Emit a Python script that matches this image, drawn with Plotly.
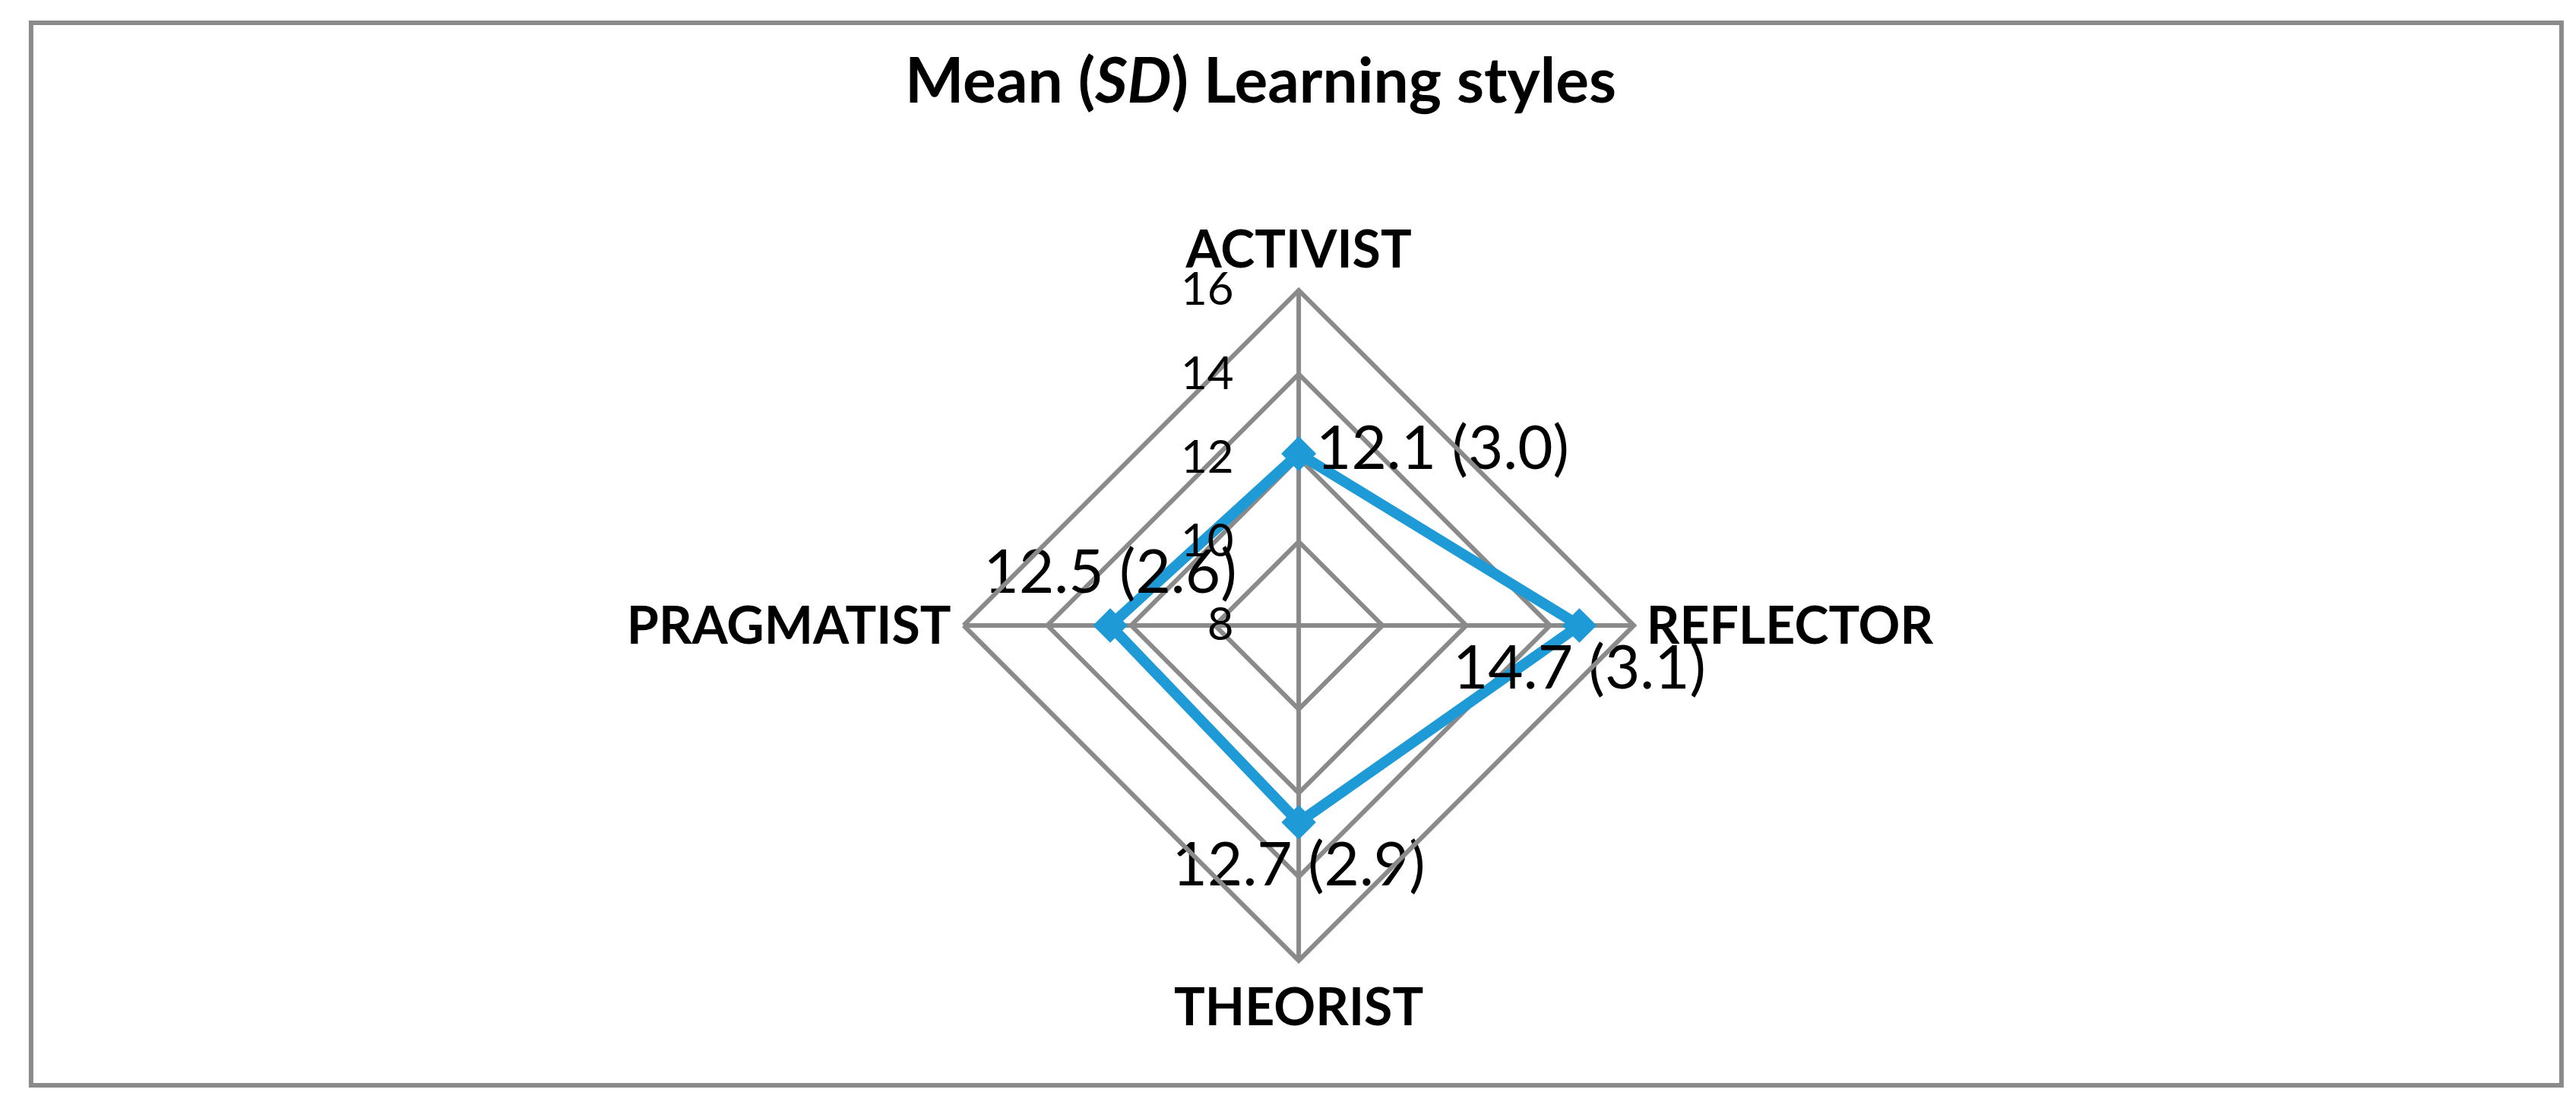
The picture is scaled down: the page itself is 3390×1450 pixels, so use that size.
import plotly.graph_objects as go

# Learning style categories and their scores
STYLES = ["ACTIVIST", "REFLECTOR", "THEORIST", "PRAGMATIST"]
MEANS = [12.1, 14.7, 12.7, 12.5]
SDS = [3.0, 3.1, 2.9, 2.6]
RADIAL_TICKS = [8, 10, 12, 14, 16]

GRID = "#8a8a8a"
BLUE = "#1E9BD7"
FONT = "Lato"

# label text shown next to each point, e.g. "12.1 (3.0)"
labels = [f"{m:.1f} ({s:.1f})" for m, s in zip(MEANS, SDS)]

# close the polygon by repeating the first point
theta = STYLES + [STYLES[0]]
r = MEANS + [MEANS[0]]
text = labels + [""]
text_pos = ["middle right", "bottom center", "bottom center", "top center", "middle right"]

fig = go.Figure()

fig.add_trace(
    go.Scatterpolar(
        r=r,
        theta=theta,
        mode="lines+markers+text",
        text=text,
        textposition=text_pos,
        textfont=dict(family=FONT, size=80, color="black"),
        line=dict(color=BLUE, width=14),
        marker=dict(symbol="diamond", size=35, color=BLUE),
        showlegend=False,
        cliponaxis=False,
    )
)

fig.update_layout(
    width=3390,
    height=1450,
    margin=dict(l=0, r=0, t=0, b=0),
    paper_bgcolor="white",
    font=dict(family=FONT, color="black"),
    title=dict(
        text="<b>Mean (<i>SD</i>) Learning styles</b>",
        x=0.487,
        xanchor="center",
        y=0.932,
        yanchor="middle",
        yref="container",
        font=dict(family=FONT, size=82, color="black"),
    ),
    polar=dict(
        domain=dict(x=[0.3717, 0.6319], y=[0.1338, 0.7421]),
        bgcolor="white",
        gridshape="linear",
        angularaxis=dict(
            direction="clockwise",
            rotation=90,
            showgrid=True,
            gridcolor=GRID,
            gridwidth=6,
            showline=True,
            linecolor=GRID,
            linewidth=6,
            ticks="",
            tickfont=dict(family=FONT, size=68, color="black", weight="bold"),
        ),
        radialaxis=dict(
            range=[8, 16],
            tickvals=RADIAL_TICKS,
            angle=90,
            side="counterclockwise",
            showline=False,
            showgrid=True,
            gridcolor=GRID,
            gridwidth=6,
            ticks="outside",
            ticklen=64,
            tickcolor="rgba(0,0,0,0)",
            tickangle=90,
            tickfont=dict(family=FONT, size=60, color="black"),
        ),
    ),
    shapes=[
        dict(
            type="rect",
            xref="paper",
            yref="paper",
            x0=0.0097,
            x1=0.9920,
            y0=0.0207,
            y1=0.9848,
            line=dict(color=GRID, width=6),
        )
    ],
)

fig.write_html("out.html")
